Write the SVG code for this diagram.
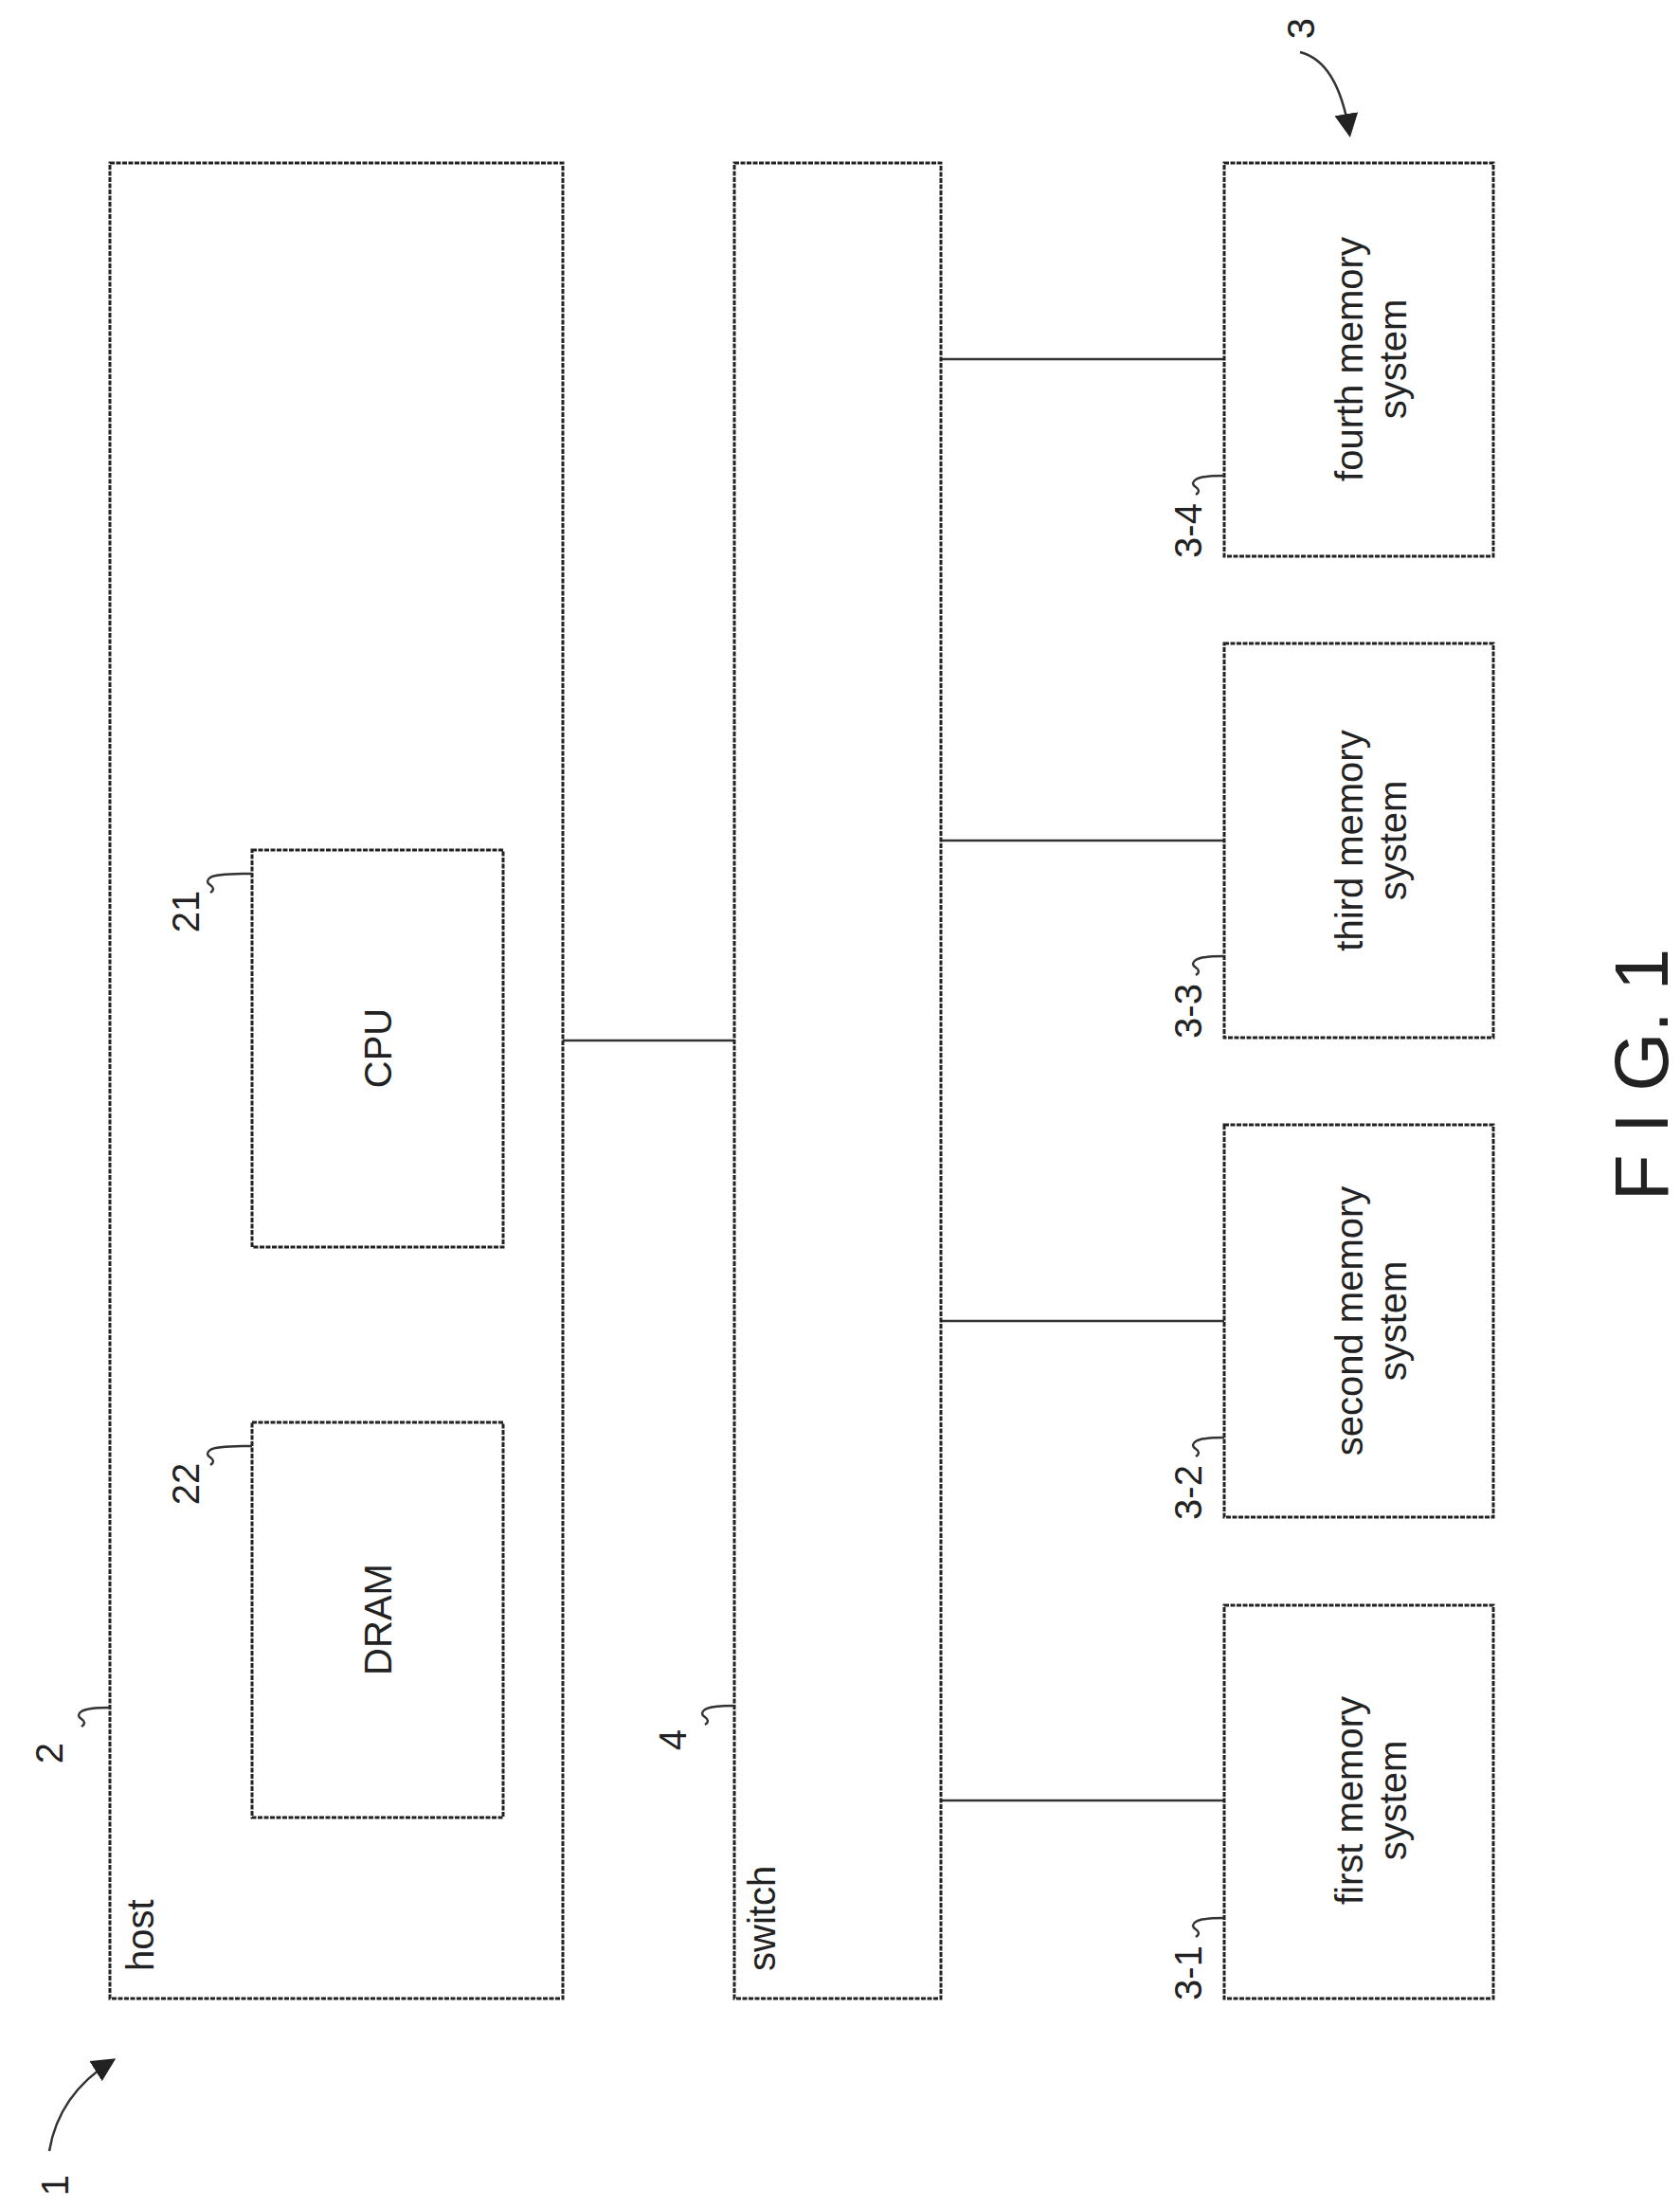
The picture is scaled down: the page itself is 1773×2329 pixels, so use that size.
<svg xmlns="http://www.w3.org/2000/svg" width="1773" height="2329" viewBox="0 0 1773 2329">
<style>
.b{fill:#fff;stroke:#222;stroke-width:3;stroke-dasharray:5 1.5}
.l{stroke:#333;stroke-width:2.5;fill:none}
.t{font-family:"Liberation Sans",Arial,sans-serif;font-size:40px;fill:#222;text-anchor:middle}
.s{font-family:"Liberation Sans",Arial,sans-serif;font-size:40px;fill:#222}
</style>
<defs><marker id="a" markerWidth="10" markerHeight="10" refX="8" refY="5" orient="auto"><path d="M0,0 L10,5 L0,10 Z" fill="#222"/></marker></defs>
<rect width="1773" height="2329" fill="#fff"/>
<g id="connectors">
<line class="l" x1="398" y1="1316" x2="398" y2="1501"/>
<line class="l" x1="594" y1="1098" x2="775" y2="1098"/>
<line class="l" x1="993" y1="379" x2="1292" y2="379"/>
<line class="l" x1="993" y1="887" x2="1292" y2="887"/>
<line class="l" x1="993" y1="1394" x2="1292" y2="1394"/>
<line class="l" x1="993" y1="1900" x2="1292" y2="1900"/>
</g>
<g id="host"><rect class="b" x="116" y="172" width="478" height="1937"/>
<text class="s" transform="translate(162,2080) rotate(-90)">host</text>
<text class="t" transform="translate(66,1850) rotate(-90)">2</text><path class="l" d="M86,1822 q6,-4 0,-8 q-6,-4 0,-8 q6,-4 30,-4"/></g>
<g id="switch"><rect class="b" x="775" y="172" width="218" height="1937"/>
<text class="s" transform="translate(818,2080) rotate(-90)">switch</text>
<text class="t" transform="translate(724,1836) rotate(-90)">4</text><path class="l" d="M744,1820 q6,-4 0,-8 q-6,-4 0,-8 q6,-4 31,-4"/></g>
<g id="cpu"><rect class="b" x="266" y="897" width="265" height="419"/>
<text class="t" transform="translate(413,1106) rotate(-90)">CPU</text>
<text class="t" transform="translate(210,962) rotate(-90)">21</text><path class="l" d="M222,942 q6,-4 0,-8 q-6,-4 0,-8 q6,-4 44,-4"/></g>
<g id="dram"><rect class="b" x="266" y="1501" width="265" height="417"/>
<text class="t" transform="translate(413,1709) rotate(-90)">DRAM</text>
<text class="t" transform="translate(210,1566) rotate(-90)">22</text><path class="l" d="M222,1546 q6,-4 0,-8 q-6,-4 0,-8 q6,-4 44,-4"/></g>
<g id="m4"><rect class="b" x="1292" y="172" width="284" height="415"/>
<text class="t" transform="translate(1438,379) rotate(-90)">fourth memory</text><text class="t" transform="translate(1484,379) rotate(-90)">system</text>
<text class="t" transform="translate(1268,560) rotate(-90)">3-4</text><path class="l" d="M1262,522 q6,-4 0,-8 q-6,-4 0,-8 q6,-4 30,-4"/></g>
<g id="m3"><rect class="b" x="1292" y="679" width="284" height="416"/>
<text class="t" transform="translate(1438,887) rotate(-90)">third memory</text><text class="t" transform="translate(1484,887) rotate(-90)">system</text>
<text class="t" transform="translate(1268,1067) rotate(-90)">3-3</text><path class="l" d="M1262,1029 q6,-4 0,-8 q-6,-4 0,-8 q6,-4 30,-4"/></g>
<g id="m2"><rect class="b" x="1292" y="1187" width="284" height="414"/>
<text class="t" transform="translate(1438,1394) rotate(-90)">second memory</text><text class="t" transform="translate(1484,1394) rotate(-90)">system</text>
<text class="t" transform="translate(1268,1575) rotate(-90)">3-2</text><path class="l" d="M1262,1537 q6,-4 0,-8 q-6,-4 0,-8 q6,-4 30,-4"/></g>
<g id="m1"><rect class="b" x="1292" y="1694" width="284" height="415"/>
<text class="t" transform="translate(1438,1900) rotate(-90)">first memory</text><text class="t" transform="translate(1484,1900) rotate(-90)">system</text>
<text class="t" transform="translate(1268,2082) rotate(-90)">3-1</text><path class="l" d="M1262,2044 q6,-4 0,-8 q-6,-4 0,-8 q6,-4 30,-4"/></g>
<g id="ref3"><text class="t" transform="translate(1387,30) rotate(-90)">3</text><path class="l" d="M1372,55 q40,10 52,85" marker-end="url(#a)"/></g>
<g id="ref1"><text class="t" transform="translate(72,2306) rotate(-90)">1</text><path class="l" d="M52,2270 q10,-60 66,-95" marker-end="url(#a)"/></g>
<text class="t" style="font-size:80px" transform="translate(1760,1134) rotate(-90)">F I G. 1</text>
</svg>
